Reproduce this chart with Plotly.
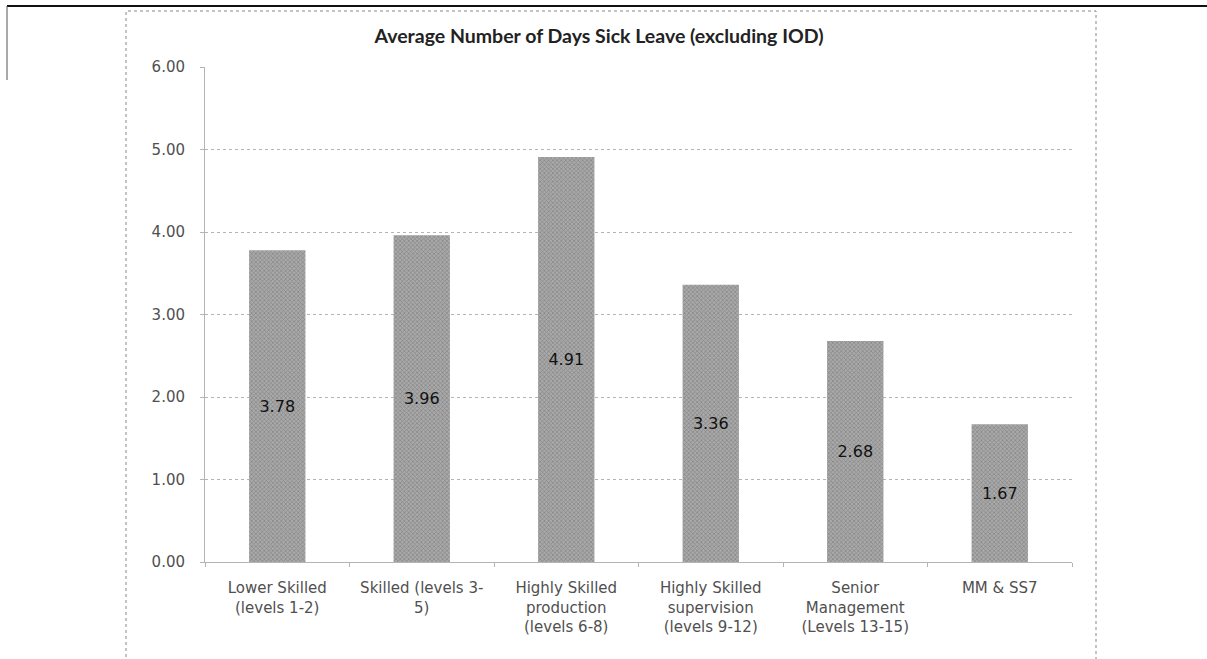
import plotly.graph_objects as go

categories = [
    "Lower Skilled<br>(levels 1-2)",
    "Skilled (levels 3-<br>5)",
    "Highly Skilled<br>production<br>(levels 6-8)",
    "Highly Skilled<br>supervision<br>(levels 9-12)",
    "Senior<br>Management<br>(Levels 13-15)",
    "MM & SS7",
]
values = [3.78, 3.96, 4.91, 3.36, 2.68, 1.67]
y_ticks = [0, 1, 2, 3, 4, 5, 6]
title_text = "Average Number of Days Sick Leave (excluding IOD)"

W, H = 1207, 659
L, R, T, B = 205, 1072, 67, 562


def px(x):
    return (x - L) / (R - L)


def py(y):
    return (B - y) / (B - T)


fig = go.Figure()
fig.add_trace(go.Bar(
    x=categories,
    y=values,
    text=[f"{v:.2f}" for v in values],
    textposition="inside",
    insidetextanchor="middle",
    textangle=0,
    textfont=dict(family="DejaVu Sans", size=16, color="#111111"),
    marker=dict(
        color="#9c9c9c",
        line=dict(width=0),
        pattern=dict(shape="x", size=3, solidity=0.4, fgcolor="#5e5e5e", bgcolor="#a9a9a9"),
    ),
    width=0.39,
))

grid_color = "#b4b4b4"
fig.update_layout(
    width=W, height=H,
    margin=dict(l=L, r=W - R, t=T, b=H - B),
    paper_bgcolor="white", plot_bgcolor="white",
    showlegend=False,
    font=dict(family="DejaVu Sans", size=15, color="#505050"),
    title=dict(
        text=f"<b>{title_text}</b>",
        x=599 / W, xref="container", xanchor="center",
        y=1 - 36 / H, yref="container", yanchor="middle",
        font=dict(family="Lato", size=19.5, color="#222222"),
    ),
    xaxis=dict(
        showgrid=False,
        showline=True, linecolor=grid_color, linewidth=1,
        ticks="outside", tickson="boundaries", ticklen=4, tickcolor=grid_color,
        ticklabelstandoff=12,
        tickfont=dict(family="DejaVu Sans", size=15, color="#505050"),
    ),
    yaxis=dict(
        range=[0, 6], tickvals=y_ticks, tickformat=".2f",
        showgrid=True, gridcolor=grid_color, griddash="dot", gridwidth=1,
        showline=True, linecolor=grid_color, linewidth=1,
        ticks="outside", ticklen=4, tickcolor=grid_color,
        ticklabelstandoff=12,
        zeroline=False,
        tickfont=dict(family="DejaVu Sans", size=15, color="#505050"),
    ),
    shapes=[
        # chart outer frame (dotted)
        dict(type="rect", xref="paper", yref="paper",
             x0=px(126), x1=px(1096), y0=py(668), y1=py(11),
             line=dict(color="#888888", width=1, dash="dot"), layer="below"),
        # top black page line
        dict(type="line", xref="paper", yref="paper",
             x0=px(7), x1=px(1210), y0=py(6), y1=py(6),
             line=dict(color="#111111", width=2)),
        # short left line
        dict(type="line", xref="paper", yref="paper",
             x0=px(7), x1=px(7), y0=py(6), y1=py(80),
             line=dict(color="#555555", width=1)),
    ],
)

fig.write_html(
    "out.html",
    config={"displayModeBar": False},
    post_script="document.body.style.margin='0';document.body.style.overflow='hidden';",
)
